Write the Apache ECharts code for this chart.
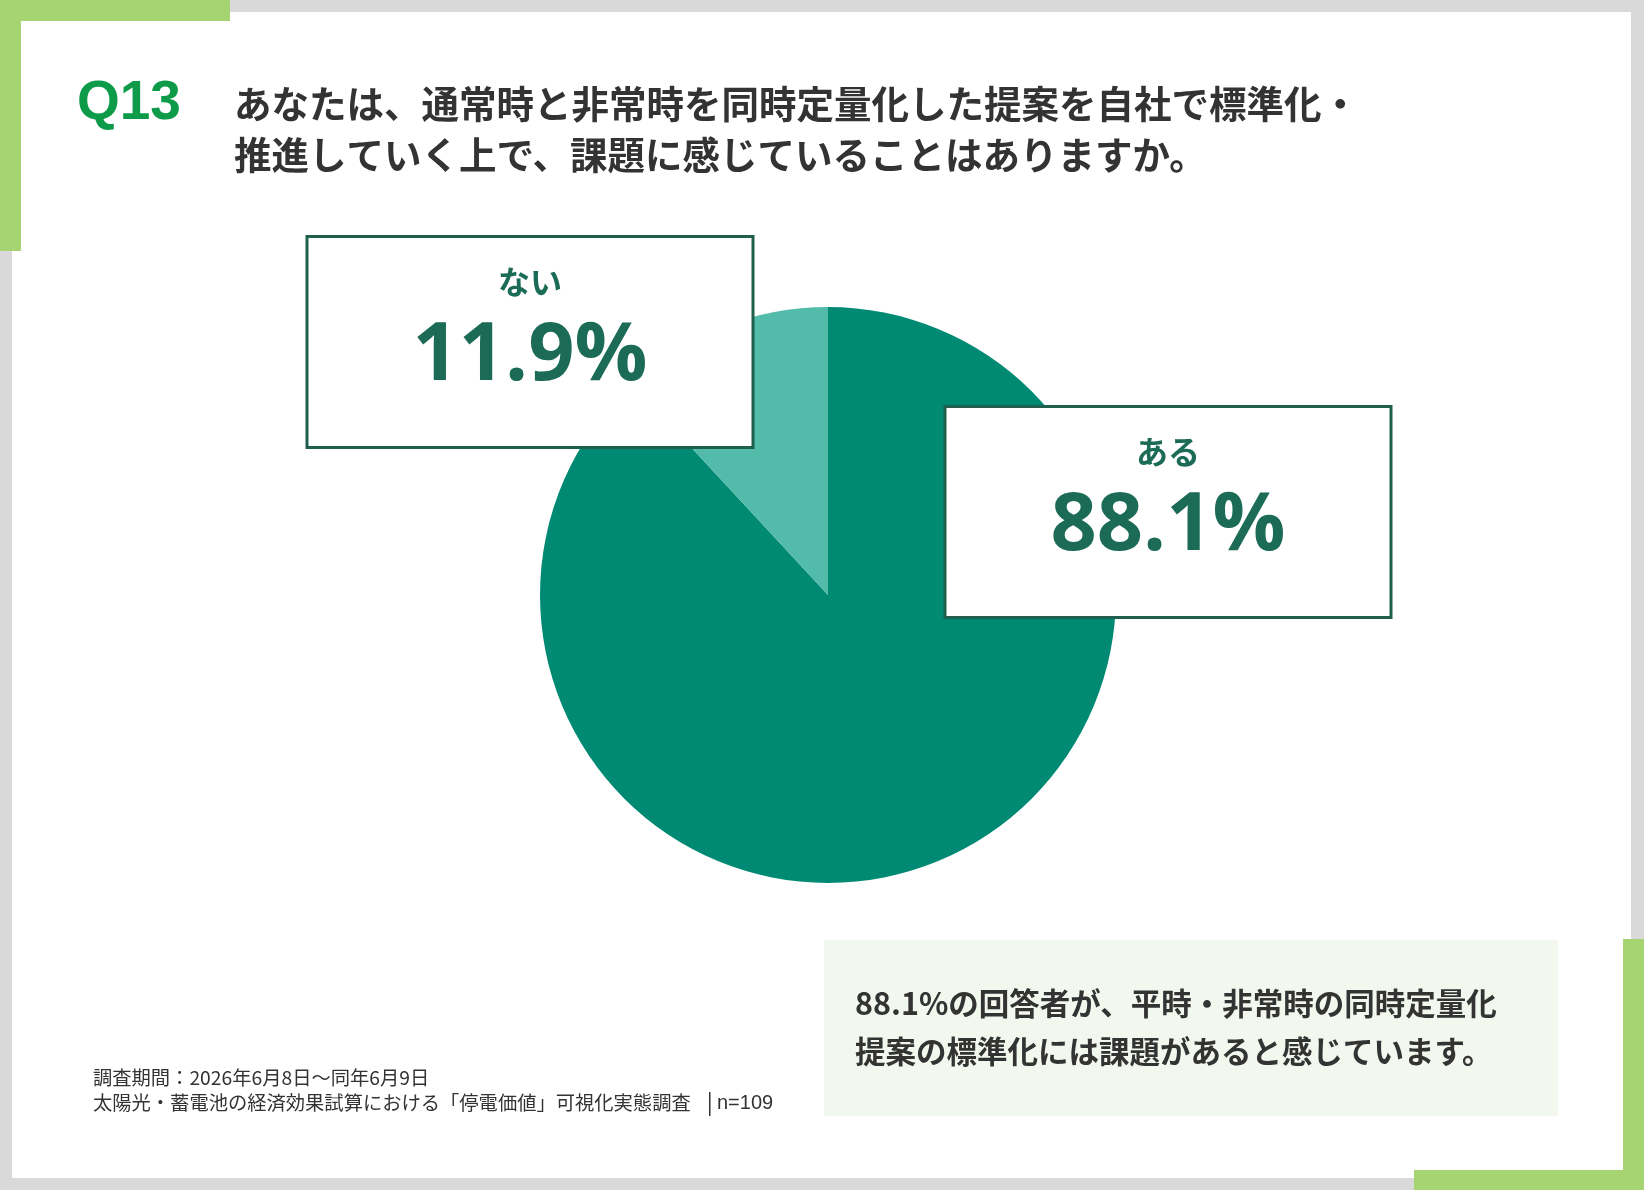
<!DOCTYPE html>
<html lang="ja" style="height: 100%">
<head>
  <meta charset="utf-8">
</head>
<body style="height: 100%; margin: 0">
  <div id="container" style="width: 1644px; height: 1190px"></div>

  <script type="text/javascript" src="https://cdn.jsdelivr.net/npm/echarts@6/dist/echarts.min.js"></script>

  <script type="text/javascript">
    // chart data
    var categories = ['ある', 'ない'];
    var values = [88.1, 11.9];
    var sliceColors = ['#008a74', '#52bba9'];

    // texts
    var qNo = 'Q13';
    var questionLines = [
      'あなたは、通常時と非常時を同時定量化した提案を自社で標準化・',
      '推進していく上で、課題に感じていることはありますか。'
    ];
    var noteLines = [
      '88.1%の回答者が、平時・非常時の同時定量化',
      '提案の標準化には課題があると感じています。'
    ];
    var sourceLines = [
      '調査期間：2026年6月8日～同年6月9日',
      '太陽光・蓄電池の経済効果試算における「停電価値」可視化実態調査'
    ];
    var sampleSize = 'n=109';

    // where the callout boxes sit (box centres)
    var calloutPos = {
      'ある': [1168, 512],
      'ない': [530, 342]
    };

    var dom = document.getElementById('container');
    var myChart = echarts.init(dom, null, {
      renderer: 'canvas',
      useDirtyRect: false
    });
    var option;

    var green = '#a6d472';
    var dark = '#333333';
    var cjk = '"Noto Sans CJK JP", sans-serif';

    var graphics = [
      // white sheet + green corner bars
      { type: 'rect', shape: { x: 12, y: 12, width: 1619, height: 1166 }, style: { fill: '#ffffff' }, z: 0 },
      { type: 'rect', shape: { x: 0, y: 0, width: 230, height: 21 }, style: { fill: green }, z: 1 },
      { type: 'rect', shape: { x: 0, y: 0, width: 21, height: 251 }, style: { fill: green }, z: 1 },
      { type: 'rect', shape: { x: 1414, y: 1170, width: 230, height: 20 }, style: { fill: green }, z: 1 },
      { type: 'rect', shape: { x: 1623, y: 939, width: 21, height: 251 }, style: { fill: green }, z: 1 },
      // note panel
      { type: 'rect', shape: { x: 824, y: 940, width: 734, height: 176 }, style: { fill: '#f3f8ee' }, z: 1 },
      {
        type: 'text', x: 77, y: 104, z: 2,
        style: {
          text: qNo, fill: '#0d9b4a', font: 'bold 55px "Liberation Sans", Arial, sans-serif',
          verticalAlign: 'middle'
        }
      },
      // footer separator
      { type: 'rect', shape: { x: 709, y: 1092, width: 1.5, height: 24 }, style: { fill: dark }, z: 2 },
      {
        type: 'text', x: 717, y: 1103, z: 2,
        style: { text: sampleSize, fill: dark, font: '20px "Liberation Sans", Arial, sans-serif', verticalAlign: 'middle' }
      }
    ];

    questionLines.forEach(function (t, i) {
      graphics.push({
        type: 'text', x: 234, y: 104 + i * 51, z: 2,
        style: { text: t, fill: dark, font: 'bold 37.5px ' + cjk, verticalAlign: 'middle' }
      });
    });
    noteLines.forEach(function (t, i) {
      graphics.push({
        type: 'text', x: 855, y: 1003 + i * 48, z: 2,
        style: { text: t, fill: dark, font: 'bold 30.5px ' + cjk, verticalAlign: 'middle' }
      });
    });
    sourceLines.forEach(function (t, i) {
      graphics.push({
        type: 'text', x: 93, y: 1078 + i * 25, z: 2,
        style: { text: t, fill: dark, font: '19.3px ' + cjk, verticalAlign: 'middle' }
      });
    });

    option = {
      backgroundColor: '#d9d9d9',
      animation: false,
      graphic: graphics,
      series: [
        {
          type: 'pie',
          z: 3,
          center: [828, 595],
          radius: 288,
          startAngle: 90,
          clockwise: true,
          avoidLabelOverlap: false,
          silent: true,
          emphasis: { disabled: true },
          itemStyle: { borderWidth: 0 },
          labelLine: { show: false },
          label: {
            show: true,
            position: 'outside',
            formatter: function (p) {
              return '{n|' + p.name + '}\n{v|' + p.value.toFixed(1) + '%}';
            },
            backgroundColor: '#ffffff',
            borderColor: '#1f5f4e',
            borderWidth: 3,
            width: 443,
            padding: [19, 0, 39, 0],
            align: 'center',
            rich: {
              n: {
                fontFamily: cjk, fontWeight: 'bold', fontSize: 32, lineHeight: 50,
                color: '#1b6b56', align: 'center'
              },
              v: {
                fontFamily: '"Open Sans", sans-serif', fontWeight: 'bold', fontSize: 81, lineHeight: 100,
                color: '#1b6b56', align: 'center'
              }
            }
          },
          labelLayout: function (params) {
            var name = categories[params.dataIndex];
            var p = calloutPos[name];
            return { x: p[0], y: p[1], align: 'center', verticalAlign: 'middle' };
          },
          data: categories.map(function (c, i) {
            return { name: c, value: values[i], itemStyle: { color: sliceColors[i] } };
          })
        }
      ]
    };

    if (option && typeof option === 'object') {
      myChart.setOption(option);
    }

    window.addEventListener('resize', myChart.resize);
  </script>
</body>
</html>
